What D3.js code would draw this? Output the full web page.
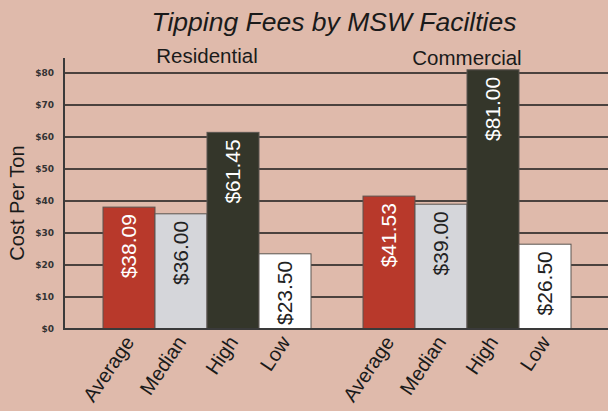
<!DOCTYPE html>
<html>
<head>
<meta charset="utf-8">
<script src="https://cdn.jsdelivr.net/npm/d3@7"></script>
<style>
    body { margin: 0; background: #dfbaab; }
    svg { display: block; }
</style>
</head>
<body>
<div id="chart"></div>
<script>

// chart data
let groups = ["Residential", "Commercial"];
let categories = ["Average", "Median", "High", "Low"];
let residentialValues = [38.09, 36.00, 61.45, 23.50];
let commercialValues = [41.53, 39.00, 81.00, 26.50];
let yTicks = [0, 10, 20, 30, 40, 50, 60, 70, 80];

let barColors = ["#b8392b", "#d5d6da", "#34362a", "#ffffff"];
let labelColors = ["#ffffff", "#222222", "#ffffff", "#222222"];

let width = 608, height = 411;

let svg = d3.select("#chart").append("svg")
    .attr("width", width)
    .attr("height", height);

svg.append("rect")
    .attr("width", width)
    .attr("height", height)
    .attr("fill", "#dfbaab");

// scales
let yScale = d3.scaleLinear().domain([0, 80]).range([329, 73]);
let x0 = d3.scaleBand().domain(groups).range([77, 597]);
let x1 = d3.scaleBand().domain(categories).range([0, x0.bandwidth()]).paddingOuter(0.5);

let axisLeft = 64;

// gridlines behind the bars
svg.append("g").selectAll("line")
    .data(yTicks)
    .join("line")
    .attr("x1", axisLeft)
    .attr("x2", width)
    .attr("y1", d => yScale(d))
    .attr("y2", d => yScale(d))
    .attr("stroke", "#1a1a1a")
    .attr("stroke-width", 1.5);

// tick labels
svg.append("g").selectAll("text")
    .data(yTicks)
    .join("text")
    .attr("x", 54)
    .attr("y", d => yScale(d))
    .attr("dy", "0.35em")
    .attr("text-anchor", "end")
    .attr("font-family", "DejaVu Sans")
    .attr("font-weight", "bold")
    .attr("font-size", 9)
    .attr("fill", "#333")
    .text(d => "$" + d);

// y axis line
svg.append("line")
    .attr("x1", axisLeft).attr("x2", axisLeft)
    .attr("y1", 58).attr("y2", yScale(0) + 1)
    .attr("stroke", "#3a3a3a")
    .attr("stroke-width", 2);

let series = [residentialValues, commercialValues];

groups.forEach(function (g, gi) {
    let data = categories.map((c, i) => ({ cat: c, value: series[gi][i], i: i }));
    let grp = svg.append("g").attr("transform", "translate(" + x0(g) + ",0)");

    // bars
    grp.selectAll("rect")
        .data(data)
        .join("rect")
        .attr("x", d => x1(d.cat))
        .attr("y", d => yScale(d.value))
        .attr("width", x1.bandwidth())
        .attr("height", d => yScale(0) - yScale(d.value))
        .attr("fill", d => barColors[d.i])
        .attr("stroke", "#5a5550")
        .attr("stroke-width", 1);

    // value labels inside bars
    grp.selectAll("text.val")
        .data(data)
        .join("text").classed("val", true)
        .attr("transform", d => "translate(" + (x1(d.cat) + x1.bandwidth() / 2) + "," + (yScale(d.value) + 7) + ") rotate(-90)")
        .attr("dy", "0.35em")
        .attr("text-anchor", "end")
        .attr("font-family", "Liberation Sans, Arial, sans-serif")
        .attr("font-size", 21)
        .attr("fill", d => labelColors[d.i])
        .text(d => "$" + d.value.toFixed(2));

    // category labels
    grp.selectAll("text.cat")
        .data(data)
        .join("text").classed("cat", true)
        .attr("transform", d => "translate(" + (x1(d.cat) + x1.bandwidth() / 2 + 6) + ",342) rotate(-56)")
        .attr("text-anchor", "end")
        .attr("font-family", "Liberation Sans, Arial, sans-serif")
        .attr("font-size", 20)
        .attr("fill", "#1a1a1a")
        .text(d => d.cat);

    // group label
    svg.append("text")
        .attr("x", x0(g) + x0.bandwidth() / 2)
        .attr("y", gi == 0 ? 63 : 65)
        .attr("text-anchor", "middle")
        .attr("font-family", "Liberation Sans, Arial, sans-serif")
        .attr("font-size", 20.5)
        .attr("fill", "#1a1a1a")
        .text(g);
});

// baseline
svg.append("line")
    .attr("x1", axisLeft).attr("x2", width)
    .attr("y1", yScale(0)).attr("y2", yScale(0))
    .attr("stroke", "#3a3a3a")
    .attr("stroke-width", 2);

// title
svg.append("text")
    .attr("x", 334)
    .attr("y", 31)
    .attr("text-anchor", "middle")
    .attr("font-family", "Liberation Sans, Arial, sans-serif")
    .attr("font-style", "italic")
    .attr("font-size", 26.5)
    .attr("fill", "#1a1a1a")
    .text("Tipping Fees by MSW Facilties");

// y axis title
svg.append("text")
    .attr("transform", "translate(24,203) rotate(-90)")
    .attr("text-anchor", "middle")
    .attr("font-family", "Liberation Sans, Arial, sans-serif")
    .attr("font-size", 20)
    .attr("fill", "#1a1a1a")
    .text("Cost Per Ton");

</script>
</body>
</html>
